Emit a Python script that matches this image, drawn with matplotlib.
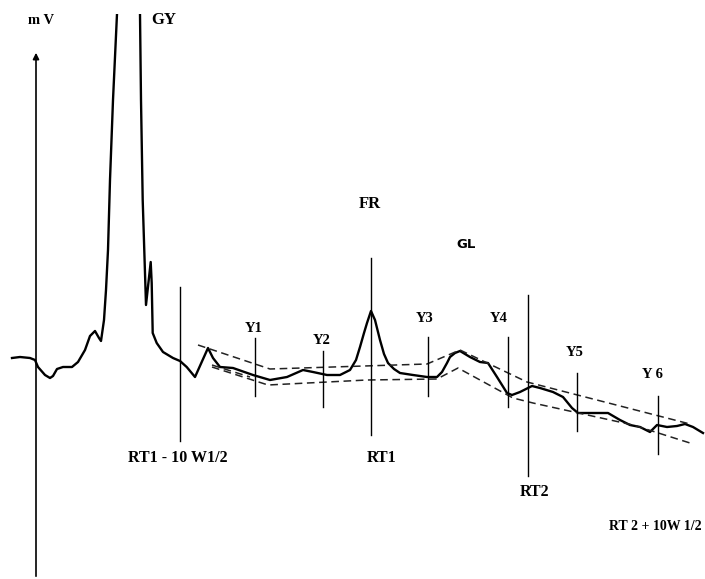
import matplotlib.pyplot as plt
from matplotlib.patches import Rectangle

# signal trace (x = time, y = response, picture units, y grows downward)
trace_x = [12, 20, 30, 35, 38, 45, 50, 53, 57, 63, 72, 78, 85, 90, 95, 99, 101, 104, 106, 108,
           110, 113, 117, 128, 140, 141, 142.7, 146, 150.7, 151.7, 152.7, 156.7, 163, 173, 180,
           186.7, 195, 208, 213, 220, 233, 253, 270, 287, 303, 313, 327, 340, 350, 356, 360, 364,
           367, 371, 375, 380, 384, 388, 394, 400, 413, 427, 437, 442, 447, 450, 455, 460, 470,
           480, 488, 497, 507, 512, 520, 532, 540, 553, 563, 572, 578, 590, 608, 620, 630, 640,
           650, 657, 667, 677, 685, 693, 703]
trace_y = [358, 357, 358, 360, 367, 375, 378, 376, 369, 367, 367, 362, 350, 336, 331, 338, 341,
           320, 290, 250, 180, 100, 14, -300, 14, 100, 200, 305, 262, 283, 333, 343, 352, 358,
           361, 367, 377, 348, 358, 367, 368, 375, 380, 377, 370, 372, 375, 375, 370, 360, 347,
           333, 323, 311, 320, 340, 354, 363, 369, 373, 375, 377, 377, 372, 363, 357, 353, 351,
           357, 362, 363, 377, 393, 395, 392, 386, 388, 392, 397, 408, 413, 413, 413, 420, 425,
           427, 432, 425, 427, 426, 424, 427, 433]

# baselines (dashed)
upper_x = [198, 270, 427, 460, 527, 690]
upper_y = [345, 369, 364, 350, 382, 424]
lower_x = [212, 268, 367, 437, 458, 513, 533, 633, 690]
lower_y = [367, 385, 380, 379, 368, 398, 403, 425, 443]
left_x = [212, 250]
left_y = [365, 377]

# vertical markers: x, top, bottom
markers = [(180, 287, 441), (255, 338, 396), (323, 351, 407), (371, 258, 435), (428, 337, 396),
           (508, 337, 407), (528, 295, 476), (577, 373, 431), (658, 396, 454)]

# labels: text, x, y, size
labels = [("m V", 41, 20, 10.5), ("GY", 164, 20, 12), ("FR", 370, 204, 12),
          ("Y1", 254, 329, 10.5), ("Y2", 322, 341, 10.5), ("Y3", 425, 318, 10.5),
          ("Y4", 499, 318, 10.5), ("Y5", 575, 353, 10.5), ("Y 6", 652, 375, 10.5),
          ("RT1 - 10 W1/2", 178, 458, 11.5), ("RT1", 382, 458, 11.5), ("RT2", 535, 492, 11.5)]

fig = plt.figure(figsize=(7.05, 5.79), dpi=100)
ax = fig.add_axes([0, 0, 1, 1])
ax.set_xlim(0, 705)
ax.set_ylim(579, 0)
ax.axis('off')

# y axis with arrow
ax.annotate('', xy=(36, 50), xytext=(36, 579),
            arrowprops=dict(arrowstyle='-|>', color='black', lw=1.2, mutation_scale=9))

line, = ax.plot(trace_x, trace_y, color='black', lw=1.7, solid_joinstyle='round')
line.set_clip_path(Rectangle((0, 14), 705, 565, transform=ax.transData))

ax.plot(upper_x, upper_y, color='#222222', lw=1.1, ls=(0, (5, 3)))
ax.plot(lower_x, lower_y, color='#222222', lw=1.1, ls=(0, (5, 3)))
ax.plot(left_x, left_y, color='#222222', lw=1.1, ls=(0, (5, 3)))

for x, top, bot in markers:
    ax.plot([x, x], [top, bot], color='black', lw=1.0)

for txt, x, y, s in labels:
    ax.text(x, y, txt, ha='center', va='center', fontsize=s, fontweight='bold',
            family='Liberation Serif')

ax.text(466, 245, "GL", ha='center', va='center', fontsize=9.5, fontweight='bold', family='DejaVu Sans')
ax.text(702, 526, "RT 2 + 10W 1/2", ha='right', va='center', fontsize=10, fontweight='bold',
        family='Liberation Serif')

fig.savefig('out.png', dpi=100)
